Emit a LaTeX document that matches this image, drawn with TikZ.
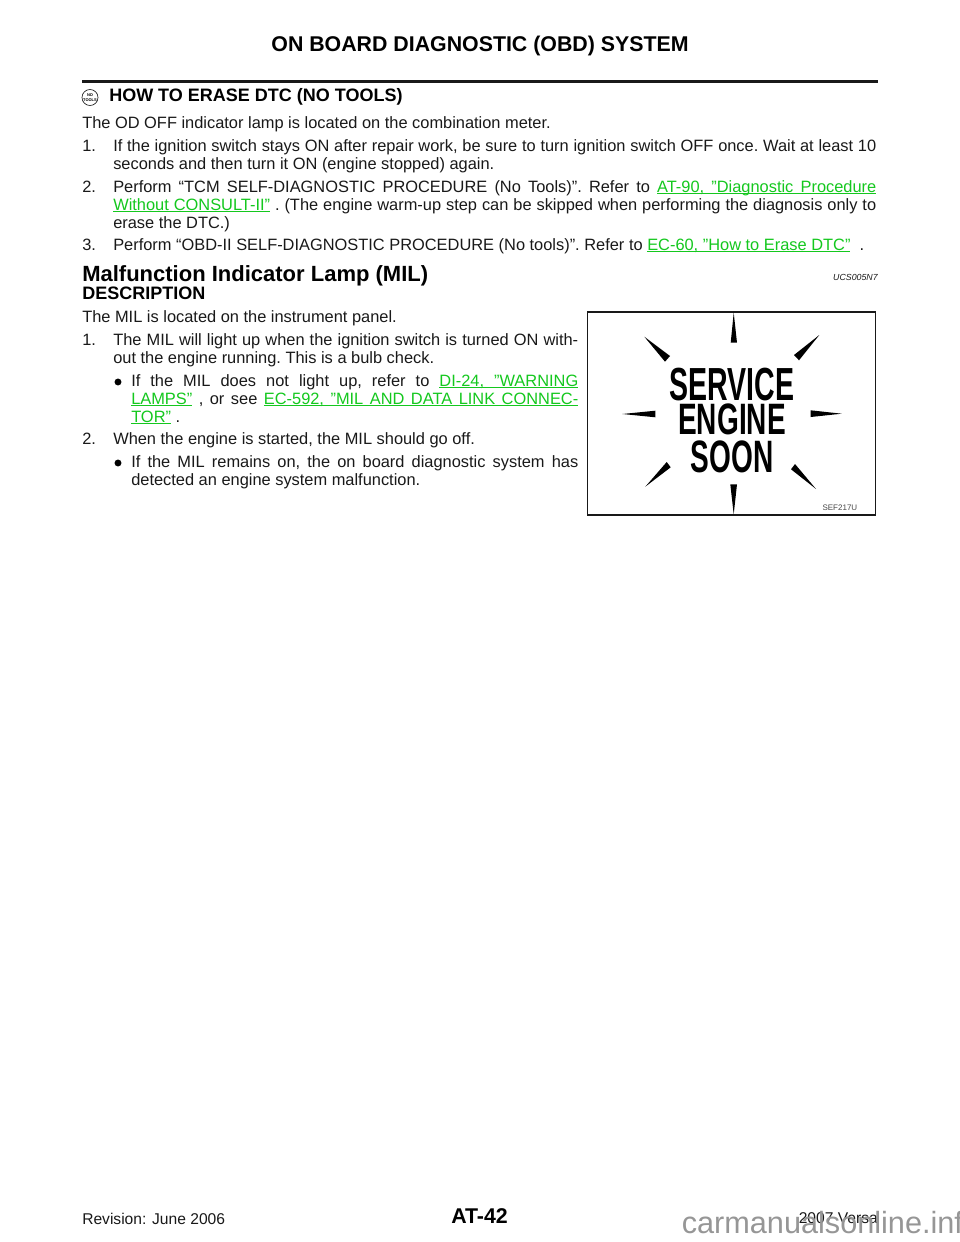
\documentclass[tikz,border=0pt]{standalone}
\usepackage{fontspec}
\usepackage{graphicx}
\setmainfont{Liberation Sans}
\definecolor{lk}{RGB}{20,200,30}
\definecolor{ink}{RGB}{25,25,25}
\definecolor{wm}{RGB}{150,150,150}
\newlength\px \px=.75pt
\newcommand\lk[1]{{\color{lk}\setbox0\hbox{#1}\rlap{\rule[-1.7pt]{\wd0}{.85pt}}\box0}}
\newcommand\ls{{\color{lk}\leaders\hrule height -.85pt depth 1.7pt\hskip\fontdimen2\font plus \fontdimen3\font minus \fontdimen4\font}}
\newcommand\jl[2]{\hbox to #1\px{\frenchspacing #2}}
\tikzset{x=.75pt,y=-.75pt,
  body/.style={anchor=base west,inner sep=0pt,text=ink,font=\fontsize{12.3pt}{14pt}\selectfont\frenchspacing},
  head/.style={anchor=base west,inner sep=0pt,text=black,font=\fontsize{13.5pt}{16pt}\selectfont\bfseries},
  big/.style={anchor=base west,inner sep=0pt,text=black,font=\fontsize{16.5pt}{18pt}\selectfont\bfseries},
  foot/.style={inner sep=0pt,text=ink,font=\fontsize{11.7pt}{14pt}\selectfont},
  ray/.style={fill=black,draw=none},
  sign/.style={inner sep=0pt,text=black,font=\bfseries},
  dot/.style={circle,fill=black,inner sep=0pt,minimum size=5.2pt}
}
\begin{document}
\begin{tikzpicture}
\useasboundingbox (0,0) rectangle (960,1242);
\fill[white] (0,0) rectangle (960,1242);
% header
\node[inner sep=0pt,anchor=base,text=black,font=\fontsize{16pt}{18pt}\selectfont\bfseries] (title) at (480,51) {ON BOARD DIAGNOSTIC (OBD) SYSTEM};
\draw[line width=1.9pt,ink] (82,81.5) -- (878,81.5);
% no tools icon
\node[circle,draw=ink,line width=.5pt,minimum size=12pt,inner sep=0pt] (icon) at (90,97.5) {};
\node[inner sep=0pt,font=\fontsize{3pt}{3.2pt}\selectfont\bfseries,align=center] (icontxt) at (90,97.5) {NO\\TOOLS};
\node[head] (h1) at (109,101) {HOW TO ERASE DTC (NO TOOLS)};
\node[body] (a0) at (82,128) {The OD OFF indicator lamp is located on the combination meter.};
\node[body] (n1) at (82,151) {1.};
\node[body] (a1) at (113,151) {\jl{763}{If the ignition switch stays ON after repair work, be sure to turn ignition switch OFF once. Wait at least 10}};
\node[body] (a2) at (113,169.5) {seconds and then turn it ON (engine stopped) again.};
\node[body] (n2) at (82,192) {2.};
\node[body] (b1) at (113,192) {\jl{763}{Perform “TCM SELF-DIAGNOSTIC PROCEDURE (No Tools)”. Refer to \lk{AT-90,}\ls\lk{"Diagnostic}\ls\lk{Procedure}}};
\node[body] (b2) at (113,210) {\jl{763}{\lk{Without}\ls\lk{CONSULT-II"} . (The engine warm-up step can be skipped when performing the diagnosis only to}};
\node[body] (b3) at (113,228) {erase the DTC.)};
\node[body] (n3) at (82,250) {3.};
\node[body] (c1) at (113,250) {Perform “OBD-II SELF-DIAGNOSTIC PROCEDURE (No tools)”. Refer to \lk{EC-60,}\ls\lk{"How}\ls\lk{to}\ls\lk{Erase}\ls\lk{DTC"} \ .};
% MIL section
\node[big] (h2) at (82,281.5) {Malfunction Indicator Lamp (MIL)};
\node[inner sep=0pt,anchor=base east,text=ink,font=\fontsize{6.6pt}{8pt}\selectfont\itshape] (code) at (878,280.5) {UCS005N7};
\node[head] (h3) at (82,299.5) {DESCRIPTION};
\node[body] (d0) at (82,322) {The MIL is located on the instrument panel.};
\node[body] (dn1) at (82,345) {1.};
\node[body] (d1) at (113,345) {\jl{465}{The MIL will light up when the ignition switch is turned ON with-}};
\node[body] (d2) at (113,363) {out the engine running. This is a bulb check.};
\node[dot] (bu1) at (118,382) {};
\node[body] (e1) at (131,386) {\jl{447}{If the MIL does not light up, refer to \lk{DI-24,}\ls\lk{"WARNING}}};
\node[body] (e2) at (131,404) {\jl{447}{\lk{LAMPS"} , or see \lk{EC-592,}\ls\lk{"MIL}\ls\lk{AND}\ls\lk{DATA}\ls\lk{LINK}\ls\lk{CONNEC-}}};
\node[body] (e3) at (131,422) {\lk{TOR"} .};
\node[body] (dn2) at (82,444) {2.};
\node[body] (f1) at (113,444) {When the engine is started, the MIL should go off.};
\node[dot] (bu2) at (118,463) {};
\node[body] (g1) at (131,467) {\jl{447}{If the MIL remains on, the on board diagnostic system has}};
\node[body] (g2) at (131,485) {detected an engine system malfunction.};
% illustration
\draw[line width=.95pt,ink] (587.5,312) rectangle (875.7,515);
\fill[ray] (733.7,312.7) -- (730.7,342.7) -- (737,342.7) -- cycle;
\fill[ray] (644.3,336.7) -- (665,361.7) -- (670,356) -- cycle;
\fill[ray] (819.3,335) -- (794,355) -- (799,360.3) -- cycle;
\fill[ray] (622.3,414) -- (655.3,410.7) -- (655.3,417.3) -- cycle;
\fill[ray] (841.7,413.7) -- (810.7,410.3) -- (810.7,417) -- cycle;
\fill[ray] (645.3,486.7) -- (666.7,462) -- (670.7,467.3) -- cycle;
\fill[ray] (816,489) -- (795,464) -- (791,469.3) -- cycle;
\fill[ray] (733.7,514.3) -- (730.3,484.3) -- (737,484.3) -- cycle;
\node[sign] (s1) at (731.7,384.5) {\resizebox{124.7\px}{32.4\px}{SERVICE}};
\node[sign] (s2) at (732,419.7) {\resizebox{107.4\px}{30.7\px}{ENGINE}};
\node[sign] (s3) at (732,456.8) {\resizebox{82.6\px}{31.7\px}{SOON}};
\node[inner sep=0pt,anchor=base west,text=ink!80,font=\fontsize{6pt}{7pt}\selectfont] (sef) at (822.3,510) {SEF217U};
% footer
\node[foot,anchor=base west] (rev) at (82,1224) {Revision: June 2006};
\node[inner sep=0pt,anchor=base,text=black,font=\fontsize{16pt}{18pt}\selectfont\bfseries] (page) at (479.5,1223) {AT-42};
\node[foot,anchor=base east] (ver) at (878,1223) {2007 Versa};
\node[inner sep=0pt,anchor=base west,text=wm,font=\fontsize{23pt}{26pt}\selectfont] (mark) at (681.5,1233) {carmanualsonline.info};
\end{tikzpicture}
\end{document}
